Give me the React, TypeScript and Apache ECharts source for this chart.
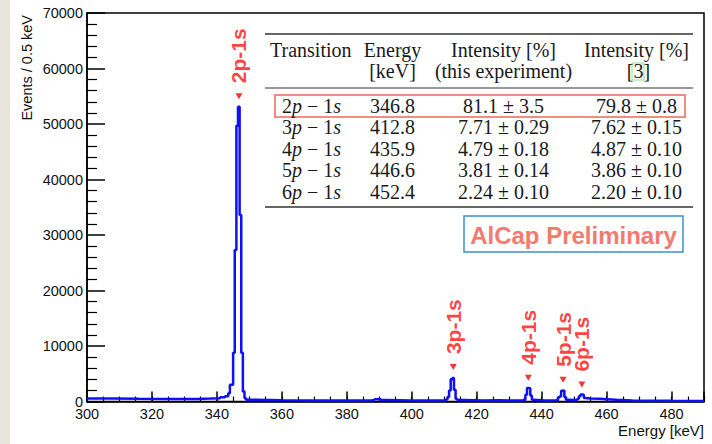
import React, { useEffect, useRef } from "react";
import * as echarts from "echarts";

// Histogram (0.5 keV bins): left bin edges and counts (sparse: value holds until next edge)
const binEdges = [
  300, 308, 316, 326, 334, 338, 341, 342.5, 343.5, 344.0, 344.5, 345.0, 345.5, 346.0, 346.5, 347.0, 347.5, 348.0, 348.5,
  349, 352, 360, 370, 380, 387.5, 388.5, 390.5, 392, 400, 408, 410.5, 411.0, 411.5, 412.0, 412.5, 413.0, 413.5, 414,
  416, 422, 427, 433, 434.5, 435.0, 435.5, 436.0, 436.5, 437.0, 437.5, 441, 444.5, 445.0, 445.5, 446.0, 446.5, 447.0,
  447.5, 448, 450.5, 451.0, 451.5, 452.0, 452.5, 453.0, 453.5, 455, 458, 460, 463, 468, 480, 490,
];
const binCounts = [
  520, 480, 450, 470, 520, 600, 750, 950, 1500, 3000, 3000, 8800, 27300, 49700, 53100, 33600, 8800, 1800, 600,
  300, 220, 200, 180, 170, 250, 400, 250, 170, 160, 180, 350, 800, 2000, 4000, 4250, 2100, 500, 250,
  160, 220, 160, 200, 350, 1200, 2450, 2400, 1100, 300, 200, 180, 300, 700, 900, 1950, 2000, 800,
  300, 250, 300, 500, 1000, 1270, 1200, 650, 550, 500, 420, 300, 200, 130, 100, 100,
];

// Peak annotations
const peakNames = ["2p-1s", "3p-1s", "4p-1s", "5p-1s", "6p-1s"];
const peakEnergies = [346.8, 412.8, 435.9, 446.6, 452.4];
const peakArrowCounts = [55000, 6200, 4300, 3900, 3050];

// Axis ticks
const xMin = 300;
const xMax = 490;
const xMajor = 20;
const xMinor = 5;
const yMin = 0;
const yMax = 70000;
const yMajor = 10000;

// Table
const headerRow1 = ["Transition", "Energy", "Intensity [%]", "Intensity [%]"];
const headerRow2 = ["", "[keV]", "(this experiment)", "[3]"];
const transitionN = ["2", "3", "4", "5", "6"];
const energies = ["346.8", "412.8", "435.9", "446.6", "452.4"];
const intensityThis = ["81.1 ± 3.5", "7.71 ± 0.29", "4.79 ± 0.18", "3.81 ± 0.14", "2.24 ± 0.10"];
const intensityRef = ["79.8 ± 0.8", "7.62 ± 0.15", "4.87 ± 0.10", "3.86 ± 0.10", "2.20 ± 0.10"];

const SANS = "'Liberation Sans', Arial, Helvetica, sans-serif";
const SERIF = "'Liberation Serif', 'Times New Roman', serif";

export default function App() {
  const ref = useRef<HTMLDivElement>(null);
  useEffect(() => {
    if (!ref.current) return;
    const chart = echarts.init(ref.current, undefined, { renderer: "svg" });

    const histData = binEdges.map((e, i) => [e, binCounts[i]]);
    const peakData = peakNames.map((n, i) => ({ name: n, value: [peakEnergies[i], peakArrowCounts[i]] }));

    const tFont = 20;
    const colC = [270, 392.5, 503.5, 636.5];
    const rowY = [105.5, 127, 148.5, 170, 191.5];
    const textColor = "#1a1a1a";
    const graphic: any[] = [
      { type: "rect", shape: { x: 0, y: 0, width: 10, height: 444 }, style: { fill: "#e8e6dc" }, silent: true },
      {
        type: "text", x: 27, y: 15, rotation: Math.PI / 2,
        style: { text: "Events / 0.5 keV", fontSize: 14.5, fontFamily: SANS, fill: "#111", align: "right", verticalAlign: "middle" },
      },
      {
        type: "text", x: 704, y: 430,
        style: { text: "Energy [keV]", fontSize: 15, fontFamily: SANS, fill: "#111", align: "right", verticalAlign: "middle" },
      },
      { type: "line", shape: { x1: 265, y1: 34, x2: 693, y2: 34 }, style: { stroke: "#333", lineWidth: 1.5 } },
      { type: "line", shape: { x1: 265, y1: 88, x2: 693, y2: 88 }, style: { stroke: "#333", lineWidth: 1 } },
      { type: "line", shape: { x1: 265, y1: 207, x2: 693, y2: 207 }, style: { stroke: "#333", lineWidth: 1.5 } },
      { type: "rect", shape: { x: 632, y: 63, width: 12, height: 17 }, style: { fill: "none", stroke: "#8fe08f", lineWidth: 1 } },
      { type: "rect", shape: { x: 275, y: 95, width: 410, height: 22 }, style: { fill: "none", stroke: "#f28b80", lineWidth: 2 } },
      { type: "rect", shape: { x: 464, y: 216, width: 219, height: 36 }, style: { fill: "none", stroke: "#3b8fd0", lineWidth: 1.5 } },
      {
        type: "text", x: 573.5, y: 235,
        style: { text: "AlCap Preliminary", fontSize: 24, fontWeight: "bold", fontFamily: SANS, fill: "#f47a70", align: "center", verticalAlign: "middle" },
      },
    ];
    headerRow1.forEach((h, i) => {
      graphic.push({
        type: "text", x: colC[i], y: 50,
        style: { text: h, fontSize: tFont, fontFamily: SERIF, fill: textColor, align: i === 0 ? "left" : "center", verticalAlign: "middle" },
      });
    });
    headerRow2.forEach((h, i) => {
      if (!h) return;
      graphic.push({
        type: "text", x: i === 3 ? 638.5 : colC[i], y: 71,
        style: { text: h, fontSize: tFont, fontFamily: SERIF, fill: textColor, align: "center", verticalAlign: "middle" },
      });
    });
    transitionN.forEach((n, r) => {
      graphic.push({
        type: "text", x: 282, y: rowY[r],
        style: {
          text: n + "{i|p} − 1{i|s}", fontSize: tFont, fontFamily: SERIF, fill: textColor, align: "left", verticalAlign: "middle",
          rich: { i: { fontStyle: "italic", fontSize: tFont, fontFamily: SERIF, fill: textColor } },
        },
      });
      graphic.push({
        type: "text", x: colC[1], y: rowY[r],
        style: { text: energies[r], fontSize: tFont, fontFamily: SERIF, fill: textColor, align: "center", verticalAlign: "middle" },
      });
      graphic.push({
        type: "text", x: colC[2], y: rowY[r],
        style: { text: intensityThis[r], fontSize: tFont, fontFamily: SERIF, fill: textColor, align: "center", verticalAlign: "middle" },
      });
      graphic.push({
        type: "text", x: colC[3], y: rowY[r],
        style: { text: intensityRef[r], fontSize: tFont, fontFamily: SERIF, fill: textColor, align: "center", verticalAlign: "middle" },
      });
    });

    const axisCommon = {
      type: "value",
      min: xMin,
      max: xMax,
      position: "bottom",
      splitLine: { show: false },
    };

    chart.setOption({
      animation: false,
      backgroundColor: "#ffffff",
      grid: { left: 87, top: 13, width: 617, height: 388.5, show: true, borderColor: "#000", borderWidth: 1.5, backgroundColor: "transparent" },
      xAxis: [
        {
          ...axisCommon,
          interval: xMajor,
          axisLine: { show: true, onZero: false, lineStyle: { color: "#000", width: 1.5 } },
          axisTick: { show: true, inside: true, length: 10, lineStyle: { color: "#000", width: 1.5 } },
          axisLabel: {
            show: true, margin: 5, fontSize: 14.5, color: "#111", fontFamily: SANS,
            formatter: (v: number) => (v > 480 ? "" : String(v)),
          },
        },
        {
          ...axisCommon,
          interval: xMinor,
          axisLine: { show: false },
          axisTick: { show: true, inside: true, length: 5, lineStyle: { color: "#000", width: 1.2 } },
          axisLabel: { show: false },
        },
      ],
      yAxis: {
        type: "value",
        min: yMin,
        max: yMax,
        interval: yMajor,
        splitLine: { show: false },
        axisLine: { show: true, lineStyle: { color: "#000", width: 1.5 } },
        axisTick: { show: true, inside: true, length: 18, lineStyle: { color: "#000", width: 1.5 } },
        minorTick: { show: true, splitNumber: 5, length: 10, lineStyle: { color: "#000", width: 1.2 } },
        axisLabel: { margin: 4, fontSize: 14.5, color: "#111", fontFamily: SANS, formatter: (v: number) => String(v) },
      },
      series: [
        {
          type: "line",
          xAxisIndex: 0,
          step: "end",
          data: histData,
          showSymbol: false,
          symbol: "none",
          lineStyle: { color: "#0f0fff", width: 2.5 },
          z: 3,
        },
        {
          type: "scatter",
          xAxisIndex: 0,
          data: peakData,
          symbol: "triangle",
          symbolRotate: 180,
          symbolSize: [7, 6],
          itemStyle: { color: "#ff0000" },
          label: {
            show: true,
            formatter: "{b}",
            position: "top",
            distance: 10,
            rotate: 90,
            align: "left",
            verticalAlign: "middle",
            fontSize: 21,
            fontWeight: "bold",
            fontFamily: SANS,
            color: "#ff1010",
          },
          z: 4,
        },
      ],
      graphic,
    });
    return () => chart.dispose();
  }, []);
  return <div ref={ref} style={{ position: "absolute", left: 0, top: 0, width: 712, height: 444 }} />;
}
